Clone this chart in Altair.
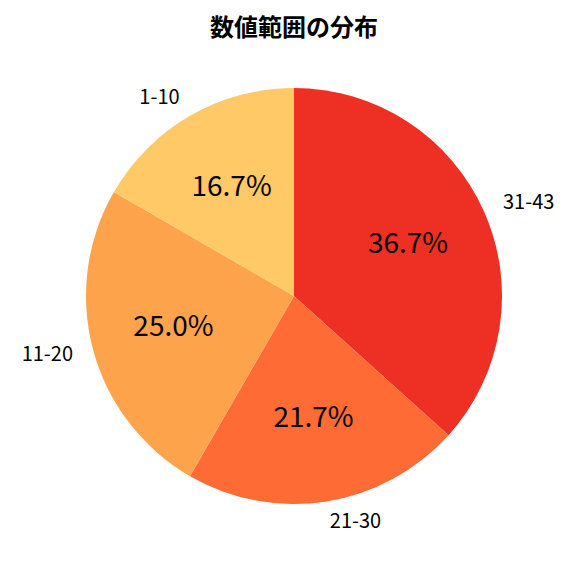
import altair as alt
import pandas as pd

labels = ["31-43", "21-30", "11-20", "1-10"]
counts = [22, 13, 15, 10]
colors = ["#ee2f24", "#fe6b35", "#fda34b", "#fec966"]

df = pd.DataFrame({"label": labels, "count": counts})

FONT = "Noto Sans CJK JP"
CX, CY, R = 286, 247, 208

base = alt.Chart(df).transform_window(
    idx="row_number()"
).transform_joinaggregate(
    total="sum(count)"
).transform_window(
    cum="sum(count)", sort=[alt.SortField("idx")]
).transform_calculate(
    pct="format(datum.count / datum.total * 100, '.1f') + '%'",
    mid="(datum.cum - datum.count / 2) / datum.total",
).transform_calculate(
    side="datum.mid < 0.5 ? 'right' : 'left'"
).encode(
    theta=alt.Theta("count:Q", stack=True),
    order=alt.Order("idx:Q"),
    x=alt.value(CX),
    y=alt.value(CY),
)

arc = base.mark_arc(outerRadius=R).encode(
    color=alt.Color("label:N", sort=labels,
                    scale=alt.Scale(domain=labels, range=colors), legend=None)
)

pct = base.mark_text(radius=R * 0.6, fontSize=28, font=FONT, color="black",
                     align="center", baseline="middle").encode(text="pct:N")

lab_right = base.mark_text(radius=R * 1.1, fontSize=20, font=FONT, color="black",
                           align="left", baseline="middle").encode(
    text=alt.condition("datum.side == 'right'", "label:N", alt.value(""))
)
lab_left = base.mark_text(radius=R * 1.1, fontSize=20, font=FONT, color="black",
                          align="right", baseline="middle").encode(
    text=alt.condition("datum.side == 'left'", "label:N", alt.value(""))
)

chart = alt.layer(arc, pct, lab_right, lab_left).properties(
    width=560, height=500,
    padding={"top": 9, "left": 0, "right": 0, "bottom": 0},
    title=alt.TitleParams("数値範囲の分布", font=FONT, fontSize=24, fontWeight="bold",
                          anchor="middle", offset=8, dx=6, color="black"),
).configure_view(stroke=None)

chart.save("out.html", embed_options={"renderer": "svg", "actions": False})
